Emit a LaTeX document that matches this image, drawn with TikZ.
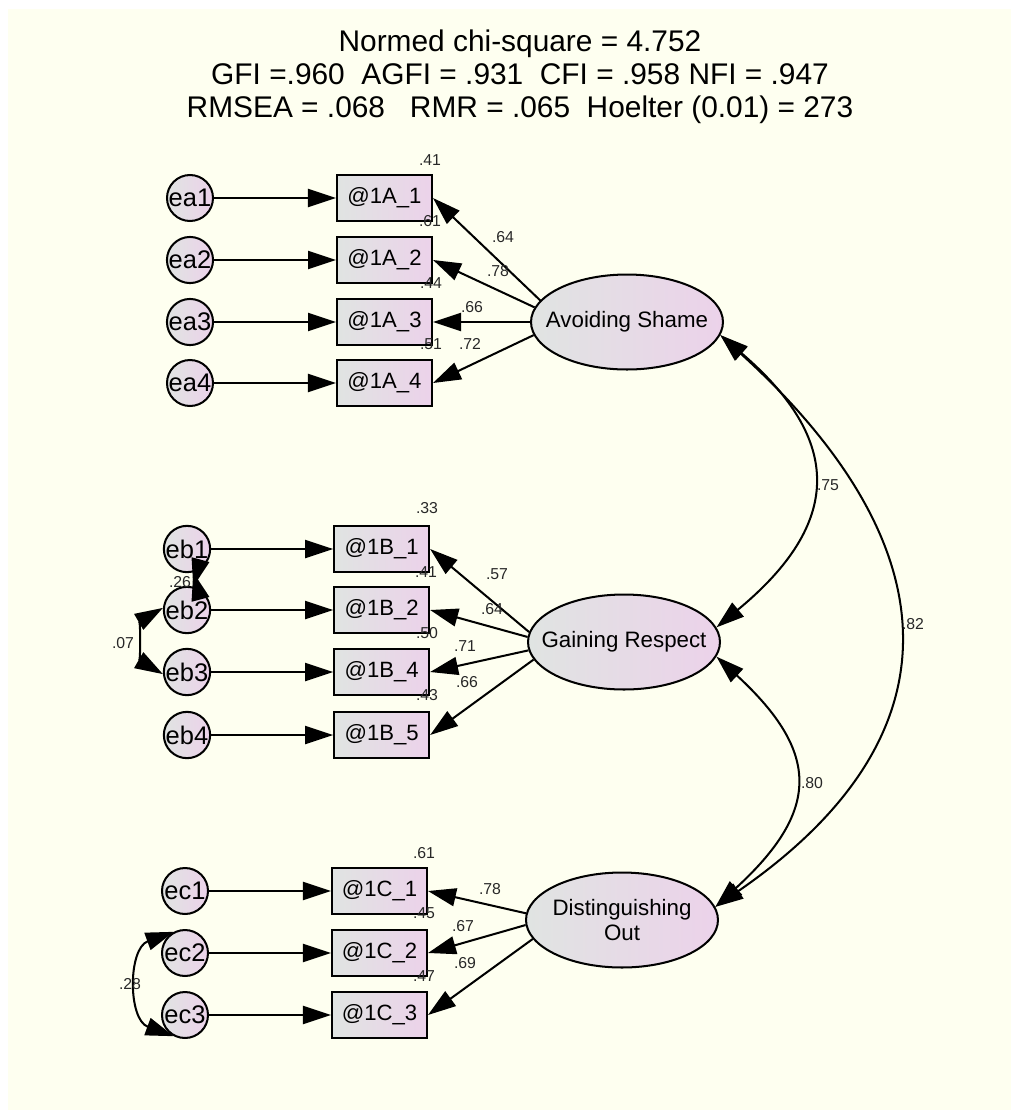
\documentclass[tikz,border=0pt]{standalone}
\usepackage{fontspec}
\setmainfont{Liberation Sans}
\usetikzlibrary{arrows.meta,positioning,shapes.geometric}
\definecolor{bgcream}{RGB}{254,255,240}
\definecolor{shadegray}{RGB}{224,228,226}
\definecolor{shadepink}{RGB}{236,210,234}
\definecolor{inkgray}{RGB}{40,40,40}

\begin{document}
\begin{tikzpicture}[
  x=0.02cm, y=-0.02cm,
  line width=1.15pt,
  obs/.style={draw, rectangle, left color=shadegray, right color=shadepink, minimum width=1.9cm, minimum height=0.92cm, inner sep=0pt, font=\fontsize{12.6}{14}\selectfont},
  err/.style={draw, circle, left color=shadegray, right color=shadepink, minimum size=0.92cm, inner sep=0pt, font=\fontsize{14.5}{16}\selectfont},
  lat/.style={draw, ellipse, left color=shadegray, right color=shadepink, minimum width=3.84cm, minimum height=1.9cm, inner xsep=-9pt, inner ysep=0pt, align=center, font=\fontsize{12.7}{14.2}\selectfont},
  coef/.style={inner sep=0pt, text=inkgray, font=\fontsize{9}{10}\selectfont},
  stat/.style={anchor=base, inner sep=0pt, font=\fontsize{17}{19}\selectfont},
  arr/.style={-{Triangle[length=0.56cm,width=0.36cm]}},
  cov/.style={{Triangle[length=0.56cm,width=0.36cm]}-{Triangle[length=0.56cm,width=0.36cm]}}
]
\useasboundingbox (0,0) rectangle (1011,1110);
\fill[bgcream] (8,9) rectangle (1011,1110);

% fit indices
\node[stat] (chisq) at (520,51) {Normed chi-square = 4.752};
\node[stat] (gfi) at (520,84) {GFI =.960~~AGFI = .931~~CFI = .958 NFI = .947};
\node[stat] (rmsea) at (520,117) {RMSEA = .068~~~RMR = .065~~Hoelter (0.01) = 273};

% avoiding shame
\node[err] (ea1) at (190,198) {ea1};
\node[err] (ea2) at (190,260) {ea2};
\node[err] (ea3) at (190,322) {ea3};
\node[err] (ea4) at (190,383) {ea4};
\node[obs, right=2.44cm of ea1] (A1) {@1A\_1};
\node[obs, right=2.44cm of ea2] (A2) {@1A\_2};
\node[obs, right=2.44cm of ea3] (A3) {@1A\_3};
\node[obs, right=2.44cm of ea4] (A4) {@1A\_4};
\node[lat] (AS) at (627,322) {Avoiding Shame};

% gaining respect
\node[err] (eb1) at (187,549) {eb1};
\node[err] (eb2) at (187,610) {eb2};
\node[err] (eb3) at (187,672) {eb3};
\node[err] (eb4) at (187,735) {eb4};
\node[obs, right=2.44cm of eb1] (B1) {@1B\_1};
\node[obs, right=2.44cm of eb2] (B2) {@1B\_2};
\node[obs, right=2.44cm of eb3] (B4) {@1B\_4};
\node[obs, right=2.44cm of eb4] (B5) {@1B\_5};
\node[lat] (GR) at (624,642) {Gaining Respect};

% distinguishing out
\node[err] (ec1) at (185,891) {ec1};
\node[err] (ec2) at (185,953) {ec2};
\node[err] (ec3) at (185,1015) {ec3};
\node[obs, right=2.44cm of ec1] (C1) {@1C\_1};
\node[obs, right=2.44cm of ec2] (C2) {@1C\_2};
\node[obs, right=2.44cm of ec3] (C3) {@1C\_3};
\node[lat] (DO) at (622,920) {Distinguishing\\Out};

% errors
\draw[arr] (ea1) -- (A1);
\draw[arr] (ea2) -- (A2);
\draw[arr] (ea3) -- (A3);
\draw[arr] (ea4) -- (A4);
\draw[arr] (eb1) -- (B1);
\draw[arr] (eb2) -- (B2);
\draw[arr] (eb3) -- (B4);
\draw[arr] (eb4) -- (B5);
\draw[arr] (ec1) -- (C1);
\draw[arr] (ec2) -- (C2);
\draw[arr] (ec3) -- (C3);

% loadings
\draw[arr] (AS.166) -- (A1.east);
\draw[arr] (AS.171) -- (A2.east);
\draw[arr] (AS.west) -- (A3.east);
\draw[arr] (AS.188) -- (A4.east);
\draw[arr] (GR.174) -- (B1.east);
\draw[arr] (GR.177) -- (B2.east);
\draw[arr] (GR.185) -- (B4.east);
\draw[arr] (GR.191) -- (B5.east);
\draw[arr] (DO.176) -- (C1.east);
\draw[arr] (DO.183) -- (C2.east);
\draw[arr] (DO.192) -- (C3.east);

% correlations
\draw[cov] (AS.-8) .. controls (843,440) and (843,523) .. (GR.9);
\draw[cov] (AS.-8) .. controls (946,540) and (969,732) .. (DO.8);
\draw[cov] (GR.-9) .. controls (821,753) and (820,811) .. (DO.8);
\draw[cov] (eb1.-75) to[bend left=15] (eb2.75);
\draw[cov] (eb2.175) to[out=210, in=150] (eb3.185);
\draw[cov] (ec2.118) to[out=200, in=160, looseness=1.2] (ec3.242);

% estimates
\node[coef] (rA1) at (430,160) {.41};
\node[coef] (rA2) at (430,221) {.61};
\node[coef] (rA3) at (431,283) {.44};
\node[coef] (rA4) at (431,344) {.51};
\node[coef] (lA1) at (503,237) {.64};
\node[coef] (lA2) at (498,271) {.78};
\node[coef] (lA3) at (472,307) {.66};
\node[coef] (lA4) at (470,344) {.72};
\node[coef] (rB1) at (427,508) {.33};
\node[coef] (rB2) at (426,572) {.41};
\node[coef] (rB4) at (427,633) {.50};
\node[coef] (rB5) at (427,695) {.43};
\node[coef] (lB1) at (497,574) {.57};
\node[coef] (lB2) at (492,609) {.64};
\node[coef] (lB4) at (465,646) {.71};
\node[coef] (lB5) at (467,682) {.66};
\node[coef] (rC1) at (424,853) {.61};
\node[coef] (rC2) at (424,913) {.45};
\node[coef] (rC3) at (424,976) {.47};
\node[coef] (lC1) at (490,889) {.78};
\node[coef] (lC2) at (463,926) {.67};
\node[coef] (lC3) at (465,963) {.69};
\node[coef] (cASGR) at (828,485) {.75};
\node[coef] (cASDO) at (913,624) {.82};
\node[coef] (cGRDO) at (812,783) {.80};
\node[coef] (ceb12) at (180,582) {.26};
\node[coef] (ceb23) at (123,643) {.07};
\node[coef] (cec23) at (130,984) {.28};
\end{tikzpicture}
\end{document}
